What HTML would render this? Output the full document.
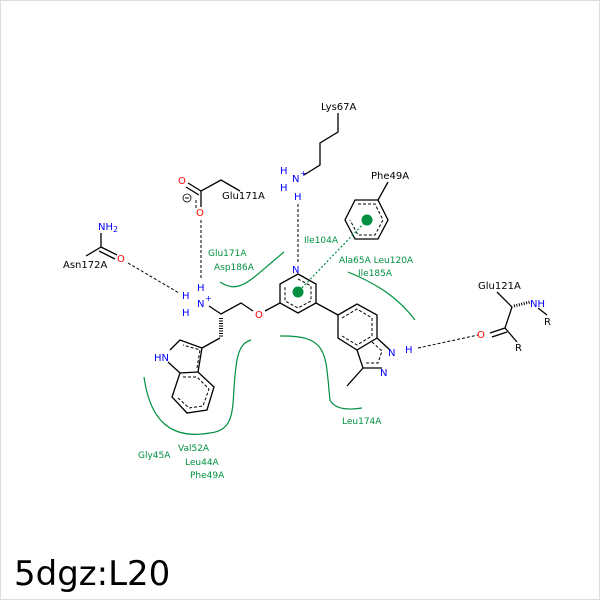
<!DOCTYPE html>
<html><head><style>body{margin:0;background:#fff}svg{display:block}</style></head><body>
<svg width="600" height="600" viewBox="0 0 600 600" xmlns="http://www.w3.org/2000/svg" font-family="DejaVu Sans, Liberation Sans, sans-serif">
<rect x="0.5" y="0.5" width="599" height="599" fill="#fff" stroke="#ddd"/>
<g stroke="#000" stroke-width="1.3" fill="none">
<polyline points="338,113 338,132 320,143 320,165 304,175"/>
<polygon points="298,274 316,284 316,303 298,313 280,303 280,284"/>
<polygon points="338,315 357,304 377,315 377,338 357,350 338,338"/>
<polyline points="377,338 390,350"/><polyline points="382,368 363,368 357,350"/>
<polyline points="363,368 347,386"/>
<line x1="316" y1="303" x2="338" y2="315"/>
<polyline points="280,303 265,311"/><polyline points="253,311 241,303 221,314 209,306"/>
<polygon points="172,397 180,373 198,372 214,387 207,410 187,413"/>
<polyline points="198,372 202,348 180,340 170,350"/><line x1="168" y1="362" x2="180" y2="373"/>
<line x1="202" y1="348" x2="220" y2="338"/>
<polygon points="355,200 378,200 388,220 378,239 355,239 345,220"/>
<line x1="378" y1="200" x2="388" y2="182"/>
<polyline points="201,207 201,191 221,180 240,191"/><line x1="188" y1="183" x2="201" y2="191"/><line x1="186" y1="187" x2="199" y2="195"/>
<polyline points="101,233 101,247 86,256"/><line x1="101" y1="247" x2="117" y2="255"/><line x1="99" y1="251" x2="115" y2="259"/>
<polyline points="497,292 512,307 505,328 517,342"/><line x1="505" y1="328" x2="490" y2="333"/><line x1="507" y1="332" x2="492" y2="337"/>
<line x1="538" y1="308" x2="547" y2="315"/>
</g>
<g stroke="#000" stroke-width="1" fill="none" stroke-dasharray="3,2">
<polyline points="298,279 311,286 311,301 298,308 285,301 285,286"/>
<polyline points="342,318 357,309 372,318 372,336 357,345 342,336"/>
<polyline points="372,342 382,351 378,363 364,363"/>
<polyline points="358,204 375,204 383,220 375,235 358,235 350,220"/>
<polyline points="183,377 197,377 209,389 203,406 189,408 177,397"/>
<polyline points="197,368 200,350 183,345"/>
<line x1="298" y1="204" x2="298" y2="262"/>
<line x1="201" y1="220" x2="201" y2="280"/>
<line x1="128" y1="263" x2="179" y2="293"/>
<line x1="418" y1="348" x2="478" y2="335"/>
<line x1="196" y1="200" x2="196" y2="208"/>
</g>
<g stroke="#000" stroke-width="1">
<line x1="221" y1="318" x2="221" y2="337" stroke-dasharray="1,1.5" stroke-width="4"/>
<line x1="514" y1="306" x2="530" y2="302" stroke-dasharray="1,1.5" stroke-width="3"/>
</g>
<line x1="367" y1="220" x2="298" y2="292" stroke="#009040" stroke-width="1.2" stroke-dasharray="2,2"/>
<circle cx="367" cy="220" r="5.5" fill="#009040"/><circle cx="298" cy="292" r="5.5" fill="#009040"/>
<g stroke="#009040" stroke-width="1.2" fill="none">
<path d="M220,282 C240,295 250,280 284,252"/>
<path d="M348,272 C380,285 400,300 415,320"/>
<path d="M280,336 C330,335 325,355 330,400 C335,410 350,410 362,408"/>
<path d="M144,377 C150,420 170,440 210,433 C240,430 230,400 237,360 C240,345 245,342 251,340"/>
</g>
<g font-size="10" fill="#000">
<text x="321" y="110">Lys67A</text>
<text x="371" y="179">Phe49A</text>
<text x="222" y="199">Glu171A</text>
<text x="63" y="268">Asn172A</text>
<text x="478" y="289">Glu121A</text>
<text x="544" y="325">R</text><text x="515" y="351">R</text>
</g>
<g font-size="10" fill="#0000ff">
<text x="292" y="273">N</text>
<text x="292" y="182">N</text><text x="300" y="176" font-size="8">+</text>
<text x="280" y="174">H</text><text x="280" y="191">H</text><text x="294" y="200">H</text>
<text x="197" y="307">N</text><text x="205" y="301" font-size="8">+</text>
<text x="182" y="299">H</text><text x="182" y="316">H</text><text x="197" y="291">H</text>
<text x="154" y="361">HN</text>
<text x="388" y="356">N</text><text x="405" y="353">H</text><text x="380" y="376">N</text>
<text x="530" y="307">NH</text>
<text x="98" y="230">NH<tspan font-size="8" dy="2">2</tspan></text>
</g>
<g font-size="10" fill="#ff0000">
<text x="255" y="318">O</text><text x="178" y="184">O</text><text x="196" y="216">O</text>
<text x="117" y="262">O</text><text x="477" y="338">O</text>
</g>
<circle cx="187" cy="198" r="4" fill="none" stroke="#000" stroke-width="0.8"/><line x1="185" y1="198" x2="189" y2="198" stroke="#000"/>
<g font-size="9" fill="#009040">
<text x="304" y="243">Ile104A</text>
<text x="208" y="256">Glu171A</text><text x="214" y="270">Asp186A</text>
<text x="339" y="263">Ala65A Leu120A</text><text x="358" y="276">Ile185A</text>
<text x="342" y="424">Leu174A</text>
<text x="138" y="458">Gly45A</text><text x="178" y="451">Val52A</text>
<text x="185" y="465">Leu44A</text><text x="190" y="478">Phe49A</text>
</g>
<text x="14" y="585" font-size="34" fill="#000">5dgz:L20</text>
</svg>
</body></html>
